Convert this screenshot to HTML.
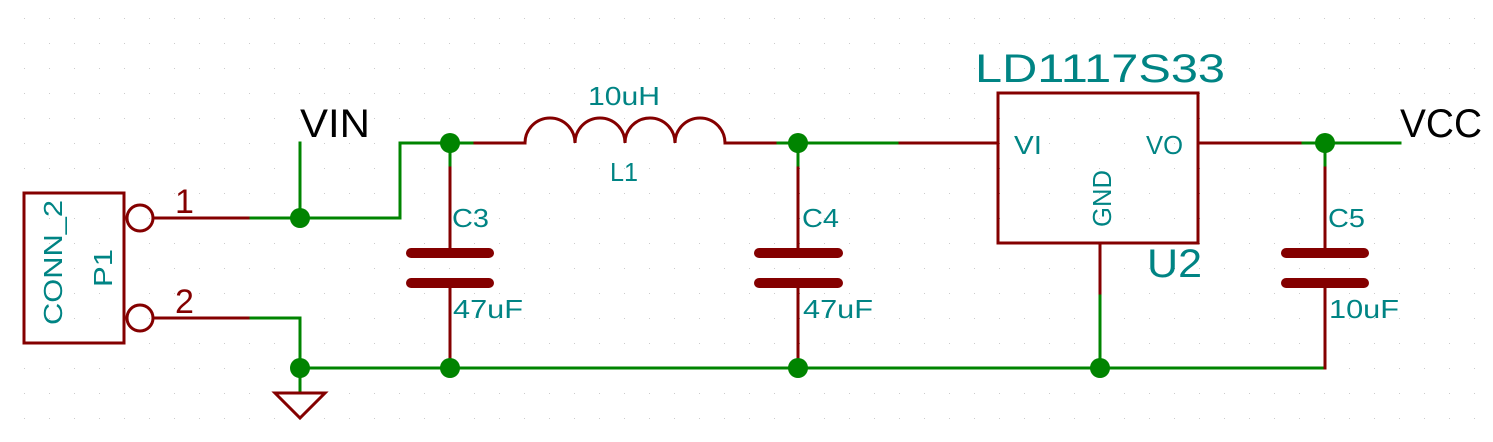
<!DOCTYPE html>
<html><head><meta charset="utf-8"><style>
html,body{margin:0;padding:0;background:#fff;}
svg{display:block;}
text{font-family:"Liberation Sans",sans-serif;}
.t{fill:#008484;}
</style></head><body>
<svg width="1493" height="442" viewBox="0 0 1493 442" xmlns="http://www.w3.org/2000/svg">
<defs><pattern id="g" x="0" y="18" width="25" height="25" patternUnits="userSpaceOnUse"><rect x="24.5" y="0" width="1" height="1" fill="#999"/></pattern></defs>
<rect x="0" y="0" width="1493" height="442" fill="url(#g)"/>
<g fill="none" stroke-width="3" stroke-linecap="square">
<g stroke="#008400">
<path d="M248 218H400V143H475"/>
<path d="M300 143V218"/>
<path d="M248 318H300V393"/>
<path d="M300 368H1325"/>
<path d="M450 143V168"/>
<path d="M775 143H900"/>
<path d="M798 143V168"/>
<path d="M1300 143H1400"/>
<path d="M1325 143V168"/>
<path d="M1100 293V368"/>
</g>
<g stroke="#840000">
<rect x="24" y="193" width="100" height="150"/>
<circle cx="140" cy="218" r="13"/>
<circle cx="140" cy="318" r="13"/>
<path d="M153 218H248M153 318H248"/>
<path d="M475 143H525M725 143H775" />
<path d="M525 143A25 25 0 0 1 575 143A25 25 0 0 1 625 143A25 25 0 0 1 675 143A25 25 0 0 1 725 143"/>
<path d="M450 168V253M450 283V368"/>
<path d="M798 168V253M798 283V368"/>
<path d="M1325 168V253M1325 283V368"/>
<path d="M900 143H998M1198 143H1300"/>
<rect x="998" y="93" width="200" height="150"/>
<path d="M1100 243V293"/>
<path d="M275 393H325L300 418Z"/>
</g>
<g stroke="#840000" stroke-width="10" stroke-linecap="round">
<path d="M411 253H489M411 283H489"/>
<path d="M759 253H838M759 283H838"/>
<path d="M1286 253H1364M1286 283H1364"/>
</g>
</g>
<g fill="#008400">
<circle cx="300" cy="218" r="10"/><circle cx="450" cy="143" r="10"/><circle cx="798" cy="143" r="10"/>
<circle cx="1325" cy="143" r="10"/><circle cx="300" cy="368" r="10"/><circle cx="450" cy="368" r="10"/>
<circle cx="798" cy="368" r="10"/><circle cx="1100" cy="368" r="10"/>
</g>
<text x="300" y="137" font-size="40" fill="#000" textLength="70" lengthAdjust="spacingAndGlyphs">VIN</text>
<text x="1400" y="137" font-size="40" fill="#000" textLength="82" lengthAdjust="spacingAndGlyphs">VCC</text>
<text x="175" y="213" font-size="34" fill="#840000">1</text>
<text x="175" y="313" font-size="34" fill="#840000">2</text>
<text class="t" x="975" y="82" font-size="40" textLength="250" lengthAdjust="spacingAndGlyphs">LD1117S33</text>
<text class="t" x="1147" y="277" font-size="40" textLength="55" lengthAdjust="spacingAndGlyphs">U2</text>
<text class="t" x="588" y="105" font-size="26" textLength="72" lengthAdjust="spacingAndGlyphs">10uH</text>
<text class="t" x="610" y="181" font-size="26" textLength="28" lengthAdjust="spacingAndGlyphs">L1</text>
<text class="t" x="452" y="227" font-size="26" textLength="37" lengthAdjust="spacingAndGlyphs">C3</text>
<text class="t" x="453" y="318" font-size="26" textLength="70" lengthAdjust="spacingAndGlyphs">47uF</text>
<text class="t" x="802" y="227" font-size="26" textLength="37" lengthAdjust="spacingAndGlyphs">C4</text>
<text class="t" x="803" y="318" font-size="26" textLength="70" lengthAdjust="spacingAndGlyphs">47uF</text>
<text class="t" x="1328" y="227" font-size="26" textLength="37" lengthAdjust="spacingAndGlyphs">C5</text>
<text class="t" x="1329" y="318" font-size="26" textLength="70" lengthAdjust="spacingAndGlyphs">10uF</text>
<text class="t" x="1014" y="154" font-size="26" textLength="28" lengthAdjust="spacingAndGlyphs">VI</text>
<text class="t" x="1146" y="154" font-size="26" textLength="37" lengthAdjust="spacingAndGlyphs">VO</text>
<text class="t" font-size="26" textLength="57" lengthAdjust="spacingAndGlyphs" transform="translate(1111,227) rotate(-90)">GND</text>
<text class="t" font-size="26" textLength="125" lengthAdjust="spacingAndGlyphs" transform="translate(62,325) rotate(-90)">CONN_2</text>
<text class="t" font-size="26" textLength="38" lengthAdjust="spacingAndGlyphs" transform="translate(112,287) rotate(-90)">P1</text>
</svg>
</body></html>
